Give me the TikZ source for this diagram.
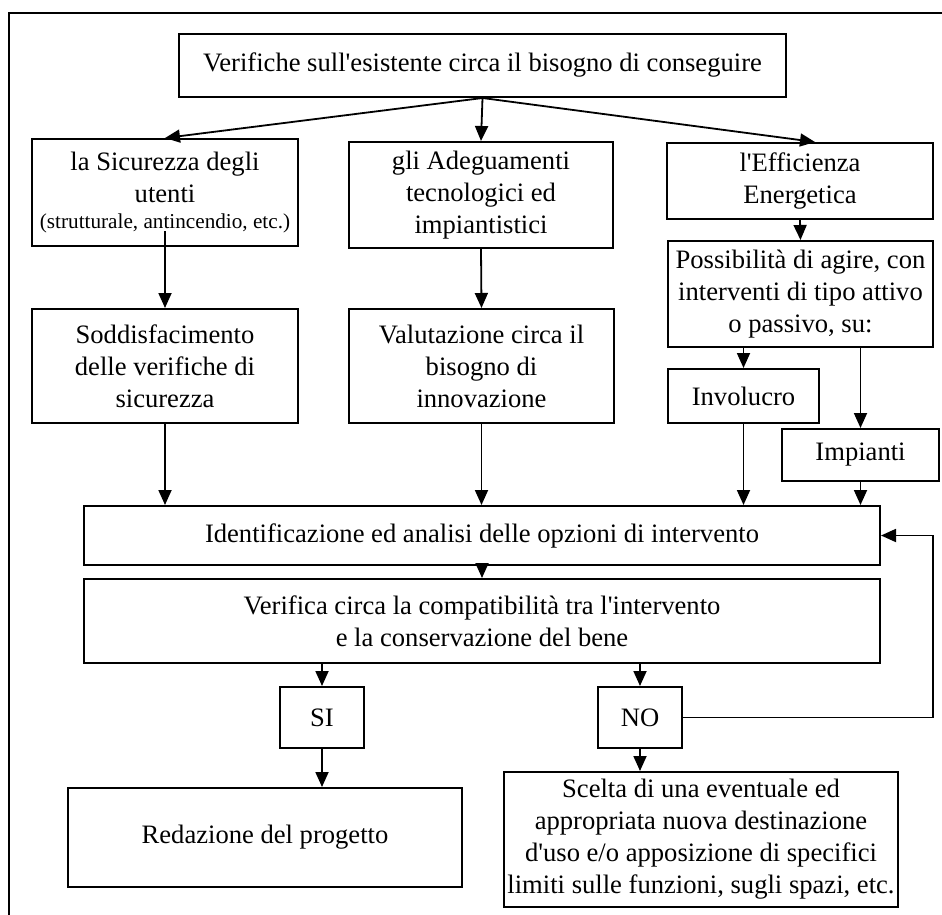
\documentclass[tikz,border=0pt]{standalone}
\usepackage{fontspec}
\setmainfont{Liberation Serif}[Ligatures=TeXOff]
\usetikzlibrary{arrows.meta}
\tikzset{
  box/.style={draw, line width=1pt, align=center, inner sep=0pt,
    font=\fontsize{13.3}{16}\selectfont},
  sz/.style 2 args={minimum width=#1, minimum height=#2},
  arr/.style={-{Triangle[length=7.5pt,width=6.5pt]}, line width=0.9pt},
}
\newcommand{\smalltxt}[1]{{\fontsize{10.6}{12}\selectfont #1}}

\begin{document}
\begin{tikzpicture}[x=0.5pt, y=-0.5pt]
  \useasboundingbox (0,0) rectangle (942,915);
  \draw[line width=1pt] (9,930) -- (9,13) -- (960,13) -- (960,930);

  \node[box, sz={303.5pt}{31.5pt}] (ver) at (482.5,65.5) {Verifiche sull'esistente circa il bisogno di conseguire};
  \node[box, sz={133pt}{53.5pt}] (sic) at (165,192.5) {la Sicurezza degli\\utenti\\[-3pt]\smalltxt{(strutturale, antincendio, etc.)}};
  \node[box, sz={132pt}{53pt}] (ade) at (481,195) {gli Adeguamenti\\tecnologici ed\\impiantistici};
  \node[box, sz={133pt}{38pt}] (eff) at (800,181) {l'Efficienza\\Energetica};
  \node[box, sz={133pt}{57pt}] (sod) at (165,366) {Soddisfacimento\\delle verifiche di\\sicurezza};
  \node[box, sz={132.5pt}{57pt}] (val) at (481.5,366) {Valutazione circa il\\bisogno di\\innovazione};
  \node[box, sz={132.5pt}{53pt}] (pos) at (800.5,294) {Possibilità di agire, con\\interventi di tipo attivo\\o passivo, su:};
  \node[box, sz={75.5pt}{27pt}] (inv) at (743.5,396) {Involucro};
  \node[box, sz={78.5pt}{26pt}] (imp) at (860.5,455) {Impianti};
  \node[box, sz={398pt}{29.5pt}] (ide) at (482,535.5) {Identificazione ed analisi delle opzioni di intervento};
  \node[box, sz={398pt}{42pt}] (vca) at (482,621) {Verifica circa la compatibilità tra l'intervento\\e la conservazione del bene};
  \node[box, sz={42pt}{30.5pt}] (si) at (322,717.5) {SI};
  \node[box, sz={42pt}{30.5pt}] (no) at (640,717.5) {NO};
  \node[box, sz={197pt}{49.5pt}] (red) at (265,837.5) {Redazione del progetto};
  \node[box, sz={197pt}{67.5pt}] (sce) at (701,839.5) {Scelta di una eventuale ed\\appropriata nuova destinazione\\d'uso e/o apposizione di specifici\\limiti sulle funzioni, sugli spazi, etc.};

  \draw[arr] (ver.south) -- (sic.north);
  \draw[arr] (ver.south) -- (ade.north);
  \draw[arr] (ver.south) -- ([xshift=7.5pt]eff.north);
  \draw[arr] ([yshift=8pt]sic.south) -- (sod.north);
  \draw[arr] (ade.south) -- (val.north);
  \draw[arr] (eff.south) -- (pos.north);
  \draw[arr] (pos.south -| inv.north) -- (inv.north);
  \draw[arr] (pos.south -| imp.north) -- (imp.north);
  \draw[arr] (sod.south) -- (sod.south |- ide.north);
  \draw[arr] (val.south) -- (val.south |- ide.north);
  \draw[arr] (inv.south) -- (inv.south |- ide.north);
  \draw[arr] (imp.south) -- (imp.south |- ide.north);
  \draw[arr] (ide.south) -- (vca.north);
  \draw[arr] (vca.south -| si.north) -- (si.north);
  \draw[arr] (vca.south -| no.north) -- (no.north);
  \draw[arr] (si.south) -- (si.south |- red.north);
  \draw[arr] (no.south) -- (no.south |- sce.north);
  \coordinate (back) at (933,717.5);
  \draw[arr] (no.east) -- (back) |- (ide.east);
\end{tikzpicture}
\end{document}
